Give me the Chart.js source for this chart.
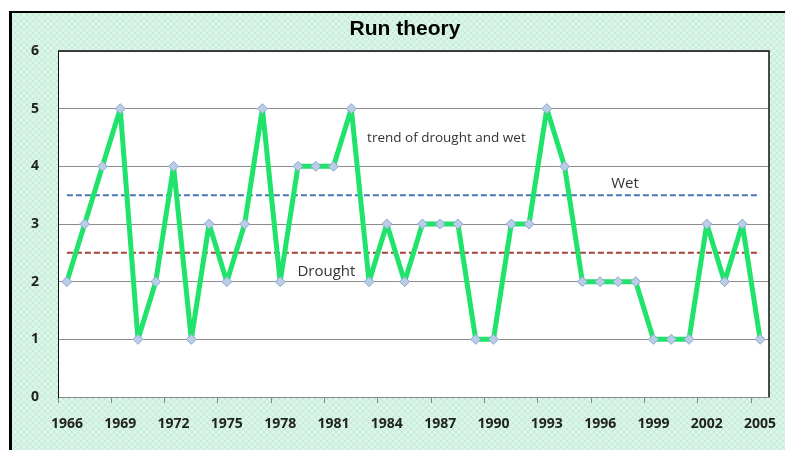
<!DOCTYPE html>
<html>
<head>
<meta charset="utf-8">
<script src="https://cdn.jsdelivr.net/npm/chart.js@4.4.1/dist/chart.umd.min.js"></script>
<style>
  html, body { margin: 0; padding: 0; background: #fff; }
  #wrap { width: 785px; height: 450px; }
</style>
</head>
<body>
<div id="wrap"><canvas id="runChart" width="785" height="450"></canvas></div>
<script>
// data
const years = [];
for (let y = 1966; y <= 2005; y++) years.push(String(y));

const runValues = [
    2, 3, 4, 5, 1, 2, 4, 1, 3, 2,
    3, 5, 2, 4, 4, 4, 5, 2, 3, 2,
    3, 3, 3, 1, 1, 3, 3, 5, 4, 2,
    2, 2, 2, 1, 1, 1, 3, 2, 3, 1,
];
const wetLevel = 3.5;
const droughtLevel = 2.5;
const yTicks = [0, 1, 2, 3, 4, 5, 6];
const chartTitle = 'Run theory';

// text notes, anchored in data units (category index, value)
const notes = [
    { text: 'trend of drought and wet', at: [21.35, 4.49], size: 13.5 },
    { text: 'Wet', at: [31.4, 3.69], size: 15 },
    { text: 'Drought', at: [14.6, 2.17], size: 15 },
];

// the excel chart frame runs a bit past the right edge of the shot
const frame = { left: 10, top: 12, right: 800 };

// mint cross-hatch fill like the excel chart area
function hatch() {
    const c = document.createElement('canvas');
    c.width = 6; c.height = 6;
    const g = c.getContext('2d');
    g.fillStyle = '#dbf6e8';
    g.fillRect(0, 0, 6, 6);
    g.strokeStyle = '#c3ebd6';
    g.lineWidth = 1;
    g.beginPath();
    g.moveTo(0, 0); g.lineTo(6, 6);
    g.moveTo(6, 0); g.lineTo(0, 6);
    g.stroke();
    return g.createPattern(c, 'repeat');
}

const backdrop = {
    id: 'backdrop',
    beforeDraw(chart) {
        const ctx = chart.ctx, a = chart.chartArea;
        ctx.save();
        ctx.fillStyle = '#fff';
        ctx.fillRect(0, 0, chart.width, chart.height);
        ctx.fillStyle = hatch();
        ctx.fillRect(frame.left, frame.top, chart.width - frame.left, chart.height - frame.top);
        ctx.fillStyle = '#000';
        ctx.fillRect(frame.left - 1, frame.top - 1, 3, chart.height);
        ctx.fillRect(frame.left - 1, frame.top - 1, chart.width, 2);
        ctx.fillStyle = '#fff';
        ctx.fillRect(a.left, a.top, a.right - a.left, a.bottom - a.top);

        // title, centred on the whole chart frame
        ctx.fillStyle = '#000';
        ctx.font = 'bold 21px "Liberation Sans", Arial, sans-serif';
        ctx.textAlign = 'center';
        ctx.textBaseline = 'middle';
        ctx.fillText(chartTitle, (frame.left + frame.right) / 2, (frame.top + a.top) / 2 - 2);
        ctx.restore();
    },
    beforeDatasetsDraw(chart) {
        const ctx = chart.ctx, a = chart.chartArea;
        ctx.save();
        ctx.strokeStyle = '#111';
        ctx.lineWidth = 1.5;
        ctx.beginPath();
        ctx.moveTo(a.left, a.top);
        ctx.lineTo(a.right, a.top);
        ctx.lineTo(a.right, a.bottom);
        ctx.stroke();
        ctx.restore();
    },
    afterDatasetsDraw(chart) {
        const ctx = chart.ctx;
        const xs = chart.scales.x, ys = chart.scales.y;
        ctx.save();
        ctx.fillStyle = '#333';
        ctx.textAlign = 'center';
        ctx.textBaseline = 'middle';
        notes.forEach(n => {
            ctx.font = n.size + 'px "Open Sans", sans-serif';
            ctx.fillText(n.text, xs.getPixelForValue(n.at[0]), ys.getPixelForValue(n.at[1]));
        });
        ctx.restore();
    }
};

const tickFont = { family: '"Open Sans", sans-serif', size: 14, weight: 'bold' };

const runChart = new Chart(document.getElementById('runChart'), {
    type: 'line',
    data: {
        labels: years,
        datasets: [
            {
                data: runValues,
                borderColor: '#1fe36b',
                borderWidth: 5,
                borderJoinStyle: 'round',
                tension: 0,
                pointStyle: 'rectRot',
                pointRadius: 5,
                pointBackgroundColor: '#b9cde6',
                pointBorderColor: '#8ea9cf',
                pointBorderWidth: 1,
            },
            {
                data: years.map(() => wetLevel),
                borderColor: '#4a78b4',
                borderWidth: 2,
                borderDash: [6, 3],
                pointRadius: 0,
            },
            {
                data: years.map(() => droughtLevel),
                borderColor: '#a8403c',
                borderWidth: 2,
                borderDash: [6, 3],
                pointRadius: 0,
            },
        ],
    },
    options: {
        responsive: false,
        animation: false,
        layout: { padding: { left: 28, right: 16, top: 51, bottom: 17 } },
        plugins: {
            legend: { display: false },
            tooltip: { enabled: false },
            title: { display: false },
        },
        scales: {
            x: {
                offset: true,
                afterFit: s => {
                    s.height = 36;
                    s.paddingLeft = 0;
                    s.paddingRight = 0;
                },
                grid: {
                    offset: true,
                    drawOnChartArea: false,
                    tickLength: 6,
                    color: c => (c.index % 3 === 0 ? '#888' : 'rgba(0,0,0,0)'),
                },
                border: { color: '#888' },
                ticks: {
                    autoSkip: false,
                    maxRotation: 0,
                    padding: 13,
                    color: '#222',
                    font: tickFont,
                    callback: function (v, i) {
                        return i % 3 === 0 ? this.getLabelForValue(v) : '';
                    },
                },
            },
            y: {
                min: yTicks[0],
                max: yTicks[yTicks.length - 1],
                afterBuildTicks: s => { s.ticks = yTicks.map(v => ({ value: v })); },
                afterFit: s => { s.width = 30; },
                grid: { color: '#8c8c8c', drawTicks: false },
                border: { color: '#111' },
                ticks: { padding: 19, color: '#222', font: tickFont },
            },
        },
    },
    plugins: [backdrop],
});
</script>
</body>
</html>
